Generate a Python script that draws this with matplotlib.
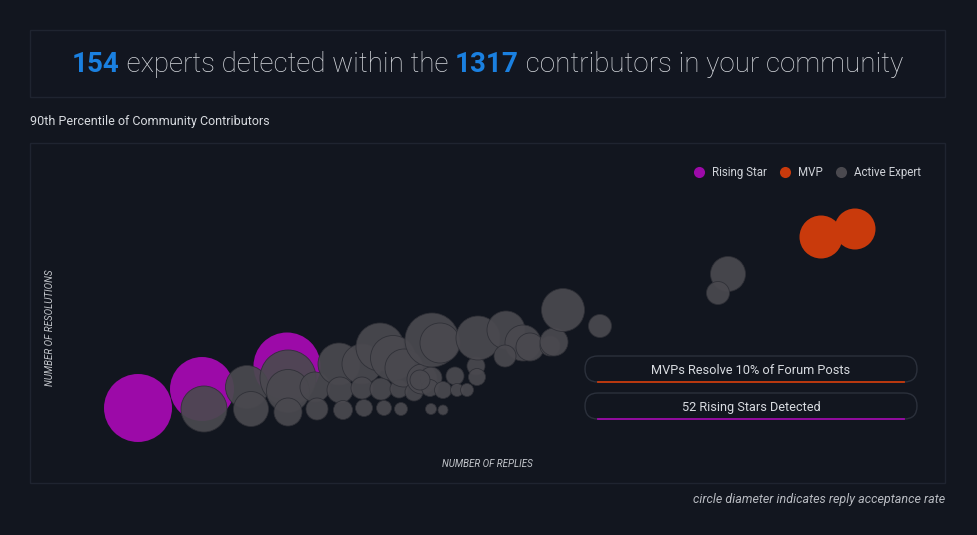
import matplotlib
matplotlib.use("Agg")
import matplotlib.pyplot as plt
from matplotlib.patches import Rectangle, FancyBboxPatch
from matplotlib.lines import Line2D
import numpy as np

plt.rcParams['font.family'] = ['Roboto', 'DejaVu Sans']

# ---- data (replies, resolutions, acceptance-rate diameter) ----
star_replies = [108, 172, 257]
star_resolutions = [75, 94, 117]
star_accept = [68, 64, 67]

mvp_replies = [791, 825]
mvp_resolutions = [246, 254]
mvp_accept = [43, 41]

expert_replies = [174, 217, 221, 258, 258, 258, 285, 287, 309, 310, 313, 332, 332, 334,
                  350, 351, 354, 363, 369, 371, 374, 384, 392, 401, 400, 401, 402, 410,
                  413, 413, 425, 427, 437, 446, 447, 448, 476, 493, 475, 500, 520, 524,
                  533, 570, 698, 688, 390]
expert_resolutions = [74, 96, 74, 105, 92, 71, 96, 74, 119, 93, 73, 119, 95, 75,
                      136, 94, 75, 125, 94, 74, 115, 91, 104, 105, 95, 74, 143, 140,
                      93, 73, 107, 93, 93, 117, 106, 145, 153, 140, 127, 136, 137, 141,
                      173, 157, 209, 190, 103]
expert_accept = [46, 43, 35, 56, 43, 28, 30, 22, 42, 26, 19, 40, 22, 17,
                 48, 22, 15, 45, 18, 13, 38, 18, 30, 22, 17, 11, 54, 40,
                 17, 10, 18, 13, 13, 18, 17, 44, 38, 36, 22, 28, 20, 28,
                 43, 23, 35, 23, 20]

legend_labels = ['Rising Star', 'MVP', 'Active Expert']
title_parts = [('154', True), (' experts detected within the ', False),
               ('1317', True), (' contributors in your community', False)]
pill_texts = ['MVPs Resolve 10% of Forum Posts', '52 Rising Stars Detected']

BG = '#12161f'
BORDER = '#1f2430'
PURPLE = '#9c0aa8'
RED = '#c93a0c'
GRAY = '#4a494f'
BLUE = '#1a80e0'

W, H = 977, 535
fig = plt.figure(figsize=(W / 100, H / 100), dpi=100, facecolor=BG)

# background axes in pixel units for the page layout
bg = fig.add_axes([0, 0, 1, 1])
bg.set_xlim(0, W)
bg.set_ylim(H, 0)
bg.axis('off')
bg.set_facecolor(BG)

bg.add_patch(Rectangle((30, 30), 915, 67, facecolor='#121620', edgecolor=BORDER, lw=1))
bg.add_patch(Rectangle((30, 143), 915, 340, facecolor=BG, edgecolor=BORDER, lw=1))

# title made of coloured pieces
pieces = []
for txt, bold in title_parts:
    t = bg.text(0, 65, txt, fontsize=20, va='center', ha='left',
                color=BLUE if bold else '#d6d9de',
                fontweight='bold' if bold else 'light')
    pieces.append(t)
fig.canvas.draw()
r = fig.canvas.get_renderer()
widths = [p.get_window_extent(r).width for p in pieces]
x0 = 487.5 - sum(widths) / 2
for p, w in zip(pieces, widths):
    p.set_x(x0)
    x0 += w

bg.text(30, 121, '90th Percentile of Community Contributors', fontsize=9,
        color='#d8dbe0', va='center', ha='left')
bg.text(945, 500, 'circle diameter indicates reply acceptance rate', fontsize=9,
        color='#b9bcc2', style='italic', va='center', ha='right')

# pills
for (txt, col), y in zip(zip(pill_texts, [RED, PURPLE]), [356, 393]):
    bg.add_patch(FancyBboxPatch((585, y), 332, 26,
                                boxstyle='round,pad=0,rounding_size=13',
                                facecolor=BG, edgecolor='#2b303b', lw=1, zorder=5))
    bg.plot([598, 904], [y + 26, y + 26], color=col, lw=1.3, zorder=6)
    bg.text(751, y + 14, txt, fontsize=9.2, color='#d8dbe0', ha='center', va='center',
            zorder=7)

# ---- bubble chart ----
ax = fig.add_axes([30 / W, (H - 483) / H, 915 / W, 340 / H])
ax.set_xlim(0, 915)
ax.set_ylim(0, 340)
ax.axis('off')
ax.patch.set_alpha(0)


def sizes(d):
    return (np.array(d) * 0.72) ** 2


ax.scatter(star_replies, star_resolutions, s=sizes(star_accept), color=PURPLE,
           edgecolors='none', zorder=2)
ax.scatter(expert_replies, expert_resolutions, s=sizes(expert_accept), color=GRAY,
           alpha=0.93, edgecolors='#2e2f36', linewidths=0.6, zorder=3)
ax.scatter(mvp_replies, mvp_resolutions, s=sizes(mvp_accept), color=RED,
           edgecolors='none', zorder=4)

ax.text(0.5, 0.056, 'NUMBER OF REPLIES', transform=ax.transAxes, fontsize=7,
        style='italic', color='#c4c7cc', ha='center', va='center')
ax.text(0.022, 0.456, 'NUMBER OF RESOLUTIONS', transform=ax.transAxes, fontsize=7,
        style='italic', color='#c4c7cc', ha='center', va='center', rotation=90)

handles = [Line2D([], [], marker='o', ls='', markersize=8, markeredgecolor='none',
                  markerfacecolor=c) for c in [PURPLE, RED, GRAY]]
ax.legend(handles, legend_labels, loc='center right', bbox_to_anchor=(0.985, 0.912),
          ncol=3, frameon=False, fontsize=8.3, labelcolor='#cfd2d8',
          handletextpad=0.6, columnspacing=1.1, handlelength=1.0)

fig.savefig('out.png', dpi=100, facecolor=BG)
